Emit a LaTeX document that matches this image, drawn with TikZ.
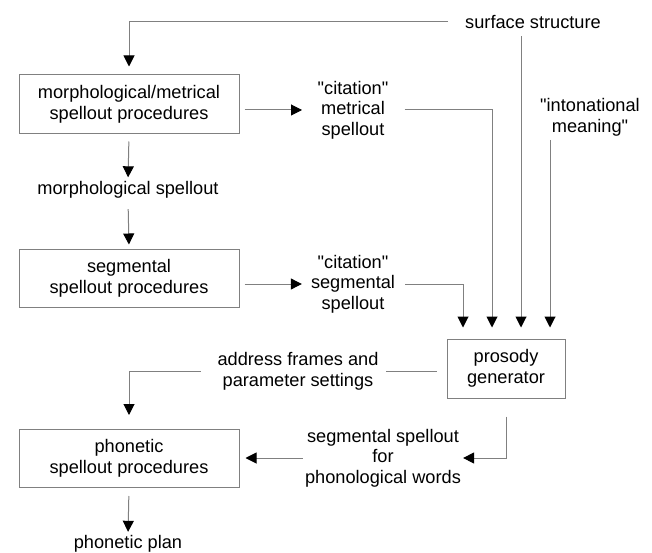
\documentclass[tikz,border=0pt]{standalone}
\usepackage{fontspec}
\setmainfont{Liberation Sans}[Ligatures=TeXOff]
\usetikzlibrary{arrows.meta}
\definecolor{lngray}{RGB}{128,128,128}
\newcommand\dfont{\fontsize{18.2}{20.6}\selectfont}
\newcommand\dq{\char34\relax}
\begin{document}
\begin{tikzpicture}[x=1pt,y=-1pt,
  ln/.style={draw=lngray,line width=1pt},
  arr/.style={ln,-{Triangle[width=11pt,length=11pt,black]}},
  box/.style={draw=lngray,line width=1pt,minimum width=220pt,minimum height=58pt,inner sep=0pt,align=center,font=\dfont},
  lbl/.style={inner sep=0pt,align=center,font=\dfont}]
\useasboundingbox (0,0) rectangle (652,553);
% boxes
\node[box,minimum height=59pt] (box1) at (129,104.5) {morphological/metrical\\spellout procedures};
\node[box] (box2) at (129,278) {segmental\\spellout procedures};
\node[box] (box3) at (129,458.5) {phonetic\\spellout procedures};
\node[box,minimum width=118pt,minimum height=59pt] (pg) at (506,368.5) {prosody\\generator};
% labels
\node[lbl] (surf) at (533,22) {surface structure};
\node[lbl] (cit1) at (353,110) {\dq citation\dq\\metrical\\spellout};
\node[lbl] (inton) at (590,117.5) {\dq intonational\\meaning\dq};
\node[lbl] (morph) at (128,190) {morphological spellout};
\node[lbl] (cit2) at (353,284) {\dq citation\dq\\segmental\\spellout};
\node[lbl] (addr) at (298,371.5) {address frames and\\parameter settings};
\node[lbl] (segsp) at (383,458) {segmental spellout\\for\\phonological words};
\node[lbl] (plan) at (128,543.5) {phonetic plan};
% arrival points on prosody generator
\coordinate (p1) at ([xshift=-43pt]pg.north);
\coordinate (p2) at ([xshift=-14pt]pg.north);
\coordinate (p3) at ([xshift=15pt]pg.north);
\coordinate (p4) at ([xshift=44pt]pg.north);
% connectors
\draw[arr,shorten <=17pt,shorten >=8pt] (surf.west) -| (box1.north);
\draw[arr,shorten <=7.5pt,shorten >=11pt] (surf.south -| p3) -- (p3);
\draw[arr,shorten <=3.5pt,shorten >=11pt] (inton.south -| p4) -- (p4);
\draw[arr,shorten <=5pt,shorten >=15.5pt] (cit1.west -| box1.east) -- (cit1.west);
\draw[arr,shorten <=16pt,shorten >=11pt] (cit1.east) -| (p2);
\draw[arr,shorten <=7pt,shorten >=4pt] (box1.south) -- (morph.north);
\draw[arr,shorten <=10.5pt,shorten >=4pt] (morph.south) -- (box2.north);
\draw[arr,shorten <=5pt,shorten >=9pt] (cit2.west -| box2.east) -- (cit2.west);
\draw[arr,shorten <=10pt,shorten >=11pt] (cit2.east) -| (p1);
\draw[ln,shorten <=0pt,shorten >=7.5pt] (addr.east -| pg.west) ++(-10,0) -- (addr.east);
\draw[arr,shorten <=16.5pt,shorten >=14pt] (addr.west) -| (box3.north);
\draw[arr,shorten <=18pt,shorten >=2pt] (pg.south) |- (segsp.east);
\draw[arr,shorten <=2pt,shorten >=6pt] (segsp.west) -- (segsp.west -| box3.east);
\draw[arr,shorten <=8pt,shorten >=3pt] (box3.south) -- (plan.north);
\end{tikzpicture}
\end{document}
